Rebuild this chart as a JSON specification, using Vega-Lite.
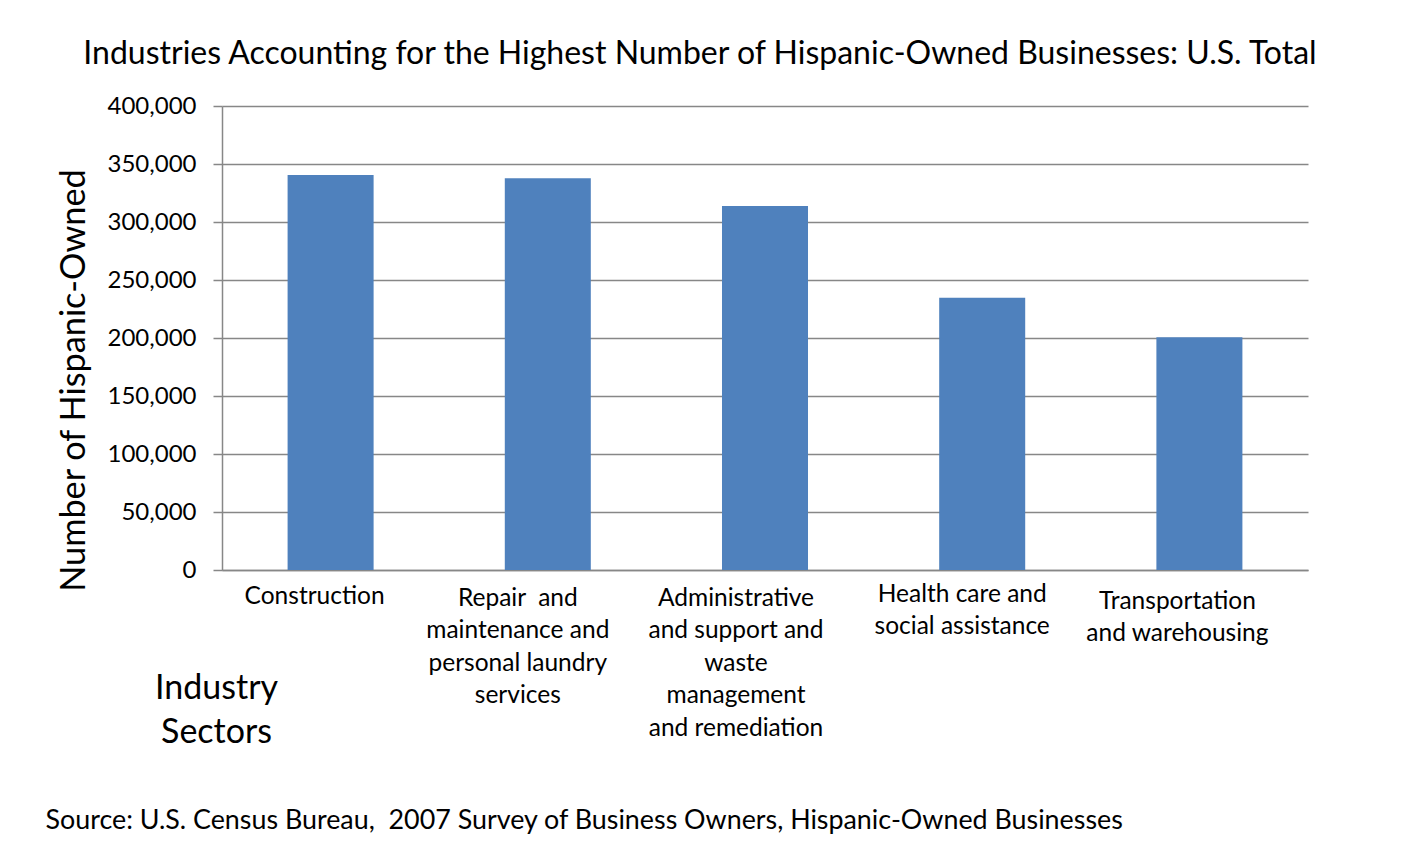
{
  "$schema": "https://vega.github.io/schema/vega-lite/v6.json",
  "autosize": "none",
  "width": 1086,
  "height": 464,
  "padding": {"left": 222, "top": 106, "right": 120, "bottom": 284},
  "background": "white",
  "title": {
    "text": "Industries Accounting for the Highest Number of Hispanic-Owned Businesses: U.S. Total",
    "font": "Lato", "fontSize": 32, "fontWeight": "normal", "color": "black",
    "anchor": "middle", "frame": "group", "baseline": "alphabetic", "offset": 0, "dx": -65, "dy": 2
  },
  "data": {
    "values": [
      {"sector": "Construction", "businesses": 340500},
      {"sector": "Repair\u00a0 and|maintenance and|personal laundry|services", "businesses": 337700},
      {"sector": "Administrative|and support and|waste|management|and remediation", "businesses": 313800},
      {"sector": "Health care and|social assistance", "businesses": 234700},
      {"sector": "Transportation|and warehousing", "businesses": 200600}
    ]
  },
  "layer": [
    {
      "mark": {"type": "bar", "color": "#4F81BD"},
      "encoding": {
        "x": {
          "field": "sector", "type": "nominal", "sort": null,
          "scale": {"paddingInner": 0.604, "paddingOuter": 0.302},
          "axis": {
            "orient": "bottom",
            "title": ["Industry", "Sectors"],
            "titleFont": "Lato", "titleFontSize": 34, "titleFontWeight": "normal", "titleColor": "black",
            "titleX": -6, "titleY": 101, "titleAlign": "center", "titleBaseline": "top", "titleLineHeight": 44.6,
            "labelExpr": "split(datum.label, '|')",
            "labelFont": "Lato", "labelFontSize": 24.5, "labelColor": "black", "labelLineHeight": 32.5,
            "labelAngle": 0, "labelBaseline": "top", "labelLimit": 400,
            "labelPadding": {"expr": "indexof(datum.value, 'Construction') == 0 ? 14 : indexof(datum.value, 'Repair') == 0 ? 16 : indexof(datum.value, 'Admin') == 0 ? 16 : indexof(datum.value, 'Health') == 0 ? 12 : 19"},
            "labelOffset": {"expr": "indexof(datum.value, 'Construction') == 0 ? -16 : indexof(datum.value, 'Repair') == 0 ? -30 : indexof(datum.value, 'Admin') == 0 ? -29 : indexof(datum.value, 'Health') == 0 ? -20 : -22"},
            "ticks": false, "tickSize": 0,
            "domainColor": "#878787", "domainWidth": 1.5, "grid": false
          }
        },
        "y": {
          "field": "businesses", "type": "quantitative",
          "scale": {"domain": [0, 400000], "nice": false},
          "axis": {
            "title": "Number of Hispanic-Owned",
            "titleFont": "Lato", "titleFontSize": 34.3, "titleFontWeight": "normal", "titleColor": "black",
            "titleX": -138, "titleY": 274, "titleAngle": -90, "titleAlign": "center", "titleBaseline": "alphabetic",
            "values": [0, 50000, 100000, 150000, 200000, 250000, 300000, 350000, 400000],
            "format": ",.0f",
            "labelFont": "Lato", "labelFontSize": 24, "labelColor": "black", "labelPadding": 17,
            "tickSize": 9, "tickColor": "#878787", "tickWidth": 1.5,
            "domainColor": "#878787", "domainWidth": 1.5,
            "grid": true, "gridColor": "#878787", "gridWidth": 1.5
          }
        }
      }
    },
    {
      "mark": {"type": "bar", "opacity": 0},
      "encoding": {
        "x": {
          "field": "sector", "type": "nominal", "sort": null,
          "axis": {
            "orient": "bottom",
            "title": "Source: U.S. Census Bureau,\u00a0 2007 Survey of Business Owners, Hispanic-Owned Businesses",
            "labels": false, "ticks": false, "domain": false, "grid": false,
            "titleFont": "Lato", "titleFontSize": 26.85, "titleFontWeight": "normal", "titleColor": "black",
            "titleX": -177, "titleY": 258, "titleAlign": "left", "titleBaseline": "alphabetic", "titleLimit": 3000
          }
        }
      }
    }
  ],
  "resolve": {"axis": {"x": "independent"}},
  "config": {"view": {"stroke": null}}
}
